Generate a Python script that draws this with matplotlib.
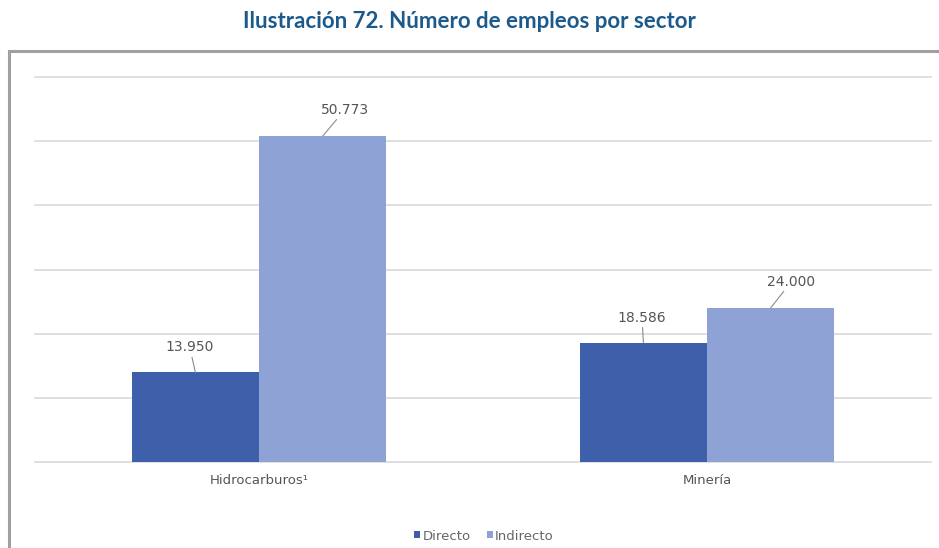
import matplotlib.pyplot as plt
from matplotlib.patches import Rectangle
import numpy as np

sectores = ['Hidrocarburos¹', 'Minería']
directo = [13950, 18586]
indirecto = [50773, 24000]
series = ['Directo', 'Indirecto']
etiquetas_dir = ['13.950', '18.586']
etiquetas_ind = ['50.773', '24.000']

c_dir = '#3e60ab'
c_ind = '#8ea2d5'

plt.rcParams['font.family'] = ['DejaVu Sans']

fig = plt.figure(figsize=(9.39, 5.48), dpi=100)
fig.text(0.5, 1 - 22 / 548, 'Ilustración 72. Número de empleos por sector',
         ha='center', va='center', fontsize=16, fontweight='bold',
         color='#1d5a8c', family=['Lato', 'DejaVu Sans'])

# marco gris
fig.patches.append(Rectangle((9 / 939, -0.05), 1.0, 1 - 51 / 548 + 0.05,
                             transform=fig.transFigure, fill=False,
                             edgecolor='#a0a0a0', linewidth=2.2))

ax = fig.add_axes([35 / 939, 1 - 462 / 548, 896 / 939, 385 / 548])
x = np.arange(len(sectores))
w = 0.284
b1 = ax.bar(x - w / 2, directo, w, color=c_dir, label=series[0])
b2 = ax.bar(x + w / 2, indirecto, w, color=c_ind, label=series[1])

ax.set_xlim(-0.5, 1.5)
ax.set_ylim(0, 60000)
ax.set_yticks(np.arange(0, 60001, 10000))
ax.yaxis.grid(True, color='#d9d9d9', linewidth=1.2)
for gl in ax.get_ygridlines():
    gl.set_clip_on(False)
ax.set_axisbelow(True)
ax.tick_params(axis='y', left=False, labelleft=False)
ax.tick_params(axis='x', bottom=False, labelsize=9.5, labelcolor='#555555',
               pad=5)
ax.set_xticks(x)
ax.set_xticklabels(sectores)
for s in ax.spines.values():
    s.set_visible(False)

# etiquetas con línea guía
offs_dir = [(-4, 13), (-1, 13)]
offs_ind = [(16, 14), (15, 14)]
for i in range(len(sectores)):
    ax.annotate(etiquetas_dir[i], xy=(x[i] - w / 2, directo[i]),
                xytext=offs_dir[i], textcoords='offset points',
                ha='center', va='bottom', fontsize=10, color='#555555',
                arrowprops=dict(arrowstyle='-', color='#8c8c8c', lw=0.8,
                                shrinkA=0, shrinkB=0))
    ax.annotate(etiquetas_ind[i], xy=(x[i] + w / 2, indirecto[i]),
                xytext=offs_ind[i], textcoords='offset points',
                ha='center', va='bottom', fontsize=10, color='#555555',
                arrowprops=dict(arrowstyle='-', color='#8c8c8c', lw=0.8,
                                shrinkA=0, shrinkB=0))

fig.legend(handles=[b1, b2], labels=series, loc='center',
           bbox_to_anchor=(484 / 939, 1 - 536 / 548), ncol=2, frameon=False,
           fontsize=9.5, labelcolor='#666666', handlelength=0.45,
           handleheight=0.45, handletextpad=0.2, columnspacing=1.2)

fig.savefig('out.png', dpi=100)
